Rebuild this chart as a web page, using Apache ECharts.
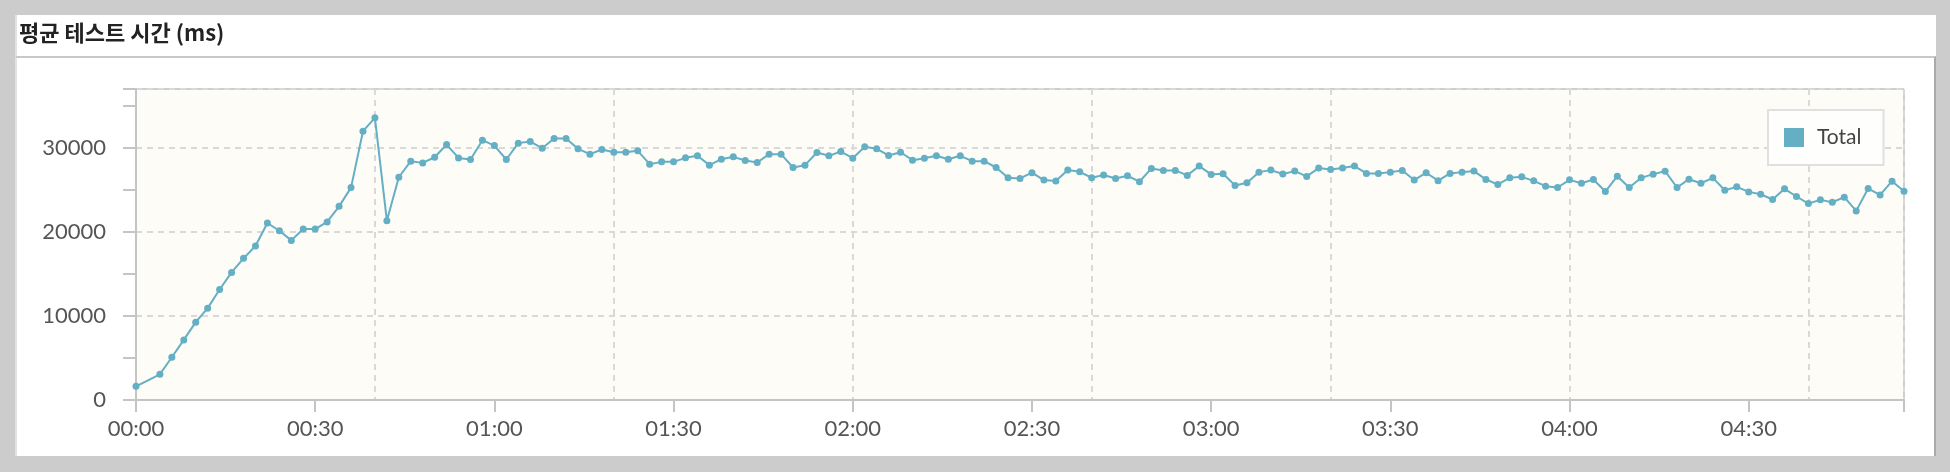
<!DOCTYPE html>
<html>
<head>
<meta charset="utf-8">
<script src="https://cdn.jsdelivr.net/npm/echarts@6/dist/echarts.min.js"></script>
<style>
  html, body { margin: 0; padding: 0; background: #cccccc; }
  .panel { position: absolute; left: 15px; top: 15px; width: 1921px; height: 441px; background: #fff; border-left: 2px solid #e2e2e2; box-sizing: border-box; }
  .box { position: absolute; left: 15px; top: 56px; width: 1921px; height: 400px; border-top: 2px solid #c8c8c8; border-right: 2px solid #aaaaaa; border-left: 2px solid #e2e2e2; box-sizing: border-box; }
  #chart { position: absolute; left: 0; top: 0; width: 1950px; height: 472px; }
</style>
</head>
<body>
<div class="panel"></div>
<div class="box"></div>
<div id="chart"></div>
<script>
// 경과 시간 (초) - 첫 샘플 후 2초 간격
const sampleSec = [0].concat(Array.from({ length: 147 }, (_, i) => 4 + 2 * i));

// 평균 테스트 시간 (ms)
const totalMs = [
  1630, 3060, 5090, 7150, 9260, 10930, 13150, 15180, 16850, 18320,
  21060, 20140, 18990, 20340, 20340, 21180, 23040, 25270, 31980, 33570,
  21330, 26500, 28410, 28210, 28880, 30390, 28800, 28610, 30910, 30270,
  28610, 30560, 30750, 29960, 31110, 31110, 29880, 29250, 29800, 29480,
  29480, 29640, 28060, 28330, 28330, 28810, 29050, 27940, 28650, 28930,
  28490, 28250, 29250, 29250, 27660, 27940, 29440, 29050, 29560, 28770,
  30120, 29880, 29090, 29480, 28530, 28770, 29050, 28650, 29050, 28410,
  28410, 27660, 26440, 26360, 27040, 26170, 26050, 27350, 27150, 26440,
  26760, 26360, 26680, 25970, 27550, 27310, 27310, 26720, 27830, 26840,
  26920, 25530, 25850, 27110, 27350, 26880, 27230, 26600, 27590, 27430,
  27590, 27830, 26960, 26960, 27110, 27310, 26170, 27040, 26090, 26960,
  27110, 27230, 26240, 25640, 26430, 26550, 26070, 25440, 25280, 26190,
  25790, 26230, 24800, 26630, 25280, 26430, 26870, 27220, 25280, 26270,
  25790, 26430, 24960, 25360, 24760, 24480, 23850, 25120, 24210, 23370,
  23810, 23530, 24130, 22500, 25160, 24400, 26030, 24840
];

const seriesName = 'Total';
const xMax = 296;       // 마지막 샘플
const yMax = 37000;

function pad(n) { return (n < 10 ? '0' : '') + n; }
function mmss(v) { return pad(Math.floor(v / 60)) + ':' + pad(v % 60); }

const chart = echarts.init(document.getElementById('chart'));

const labelFont = 'Lato, "Open Sans", sans-serif';
const axisGray = '#c4c4c4';
const gridDash = { color: '#d9d9d9', width: 2, type: [6, 5] };

let option = {
  animation: false,
  backgroundColor: 'transparent',
  title: {
    text: '평균 테스트 시간 (ms)',
    left: 14,
    top: 17,
    textStyle: {
      color: '#222',
      fontSize: 22,
      fontWeight: 'bold',
      fontFamily: '"Noto Sans CJK KR", sans-serif'
    }
  },
  legend: {
    data: [seriesName],
    left: 1768,
    top: 110,
    orient: 'vertical',
    icon: 'rect',
    itemWidth: 20,
    itemHeight: 19,
    padding: [17, 22, 17, 16],
    backgroundColor: '#fefefc',
    borderColor: '#e0e0e0',
    borderWidth: 2,
    borderRadius: 0,
    textStyle: {
      color: '#444',
      fontSize: 21,
      fontFamily: labelFont,
      padding: [0, 0, 0, 8]
    }
  },
  grid: {
    left: 136,
    top: 89,
    right: 46,
    bottom: 72,
    show: true,
    backgroundColor: '#fdfcf7',
    borderColor: '#9e9e9e',
    borderWidth: 1
  },
  xAxis: [
    {
      type: 'value',
      min: 0,
      max: xMax,
      interval: 30,
      axisLine: { show: true, lineStyle: { color: axisGray, width: 2 } },
      axisTick: { show: true, length: 12, lineStyle: { color: axisGray, width: 2 } },
      axisLabel: {
        color: '#555',
        fontSize: 22,
        fontFamily: labelFont,
        margin: 18,
        showMaxLabel: true,
        formatter: function (v) { return v % 30 === 0 ? mmss(v) : ''; }
      },
      splitLine: { show: false }
    },
    {
      // 세로 보조선 (40초 간격)
      type: 'value',
      position: 'top',
      min: 0,
      max: xMax,
      interval: 40,
      axisLine: { show: false },
      axisTick: { show: false },
      axisLabel: { show: false },
      splitLine: { show: true, lineStyle: gridDash }
    }
  ],
  yAxis: [
    {
      type: 'value',
      min: 0,
      max: yMax,
      interval: 10000,
      axisLine: { show: true, lineStyle: { color: axisGray, width: 2 } },
      axisTick: { show: true, length: 13, lineStyle: { color: axisGray, width: 2 } },
      axisLabel: {
        color: '#555',
        fontSize: 22,
        fontFamily: labelFont,
        margin: 30,
        formatter: function (v) { return v % 10000 === 0 ? String(v) : ''; }
      },
      splitLine: { show: true, lineStyle: gridDash }
    },
    {
      // 5000 단위 눈금
      type: 'value',
      position: 'left',
      min: 0,
      max: yMax,
      interval: 5000,
      axisLine: { show: false },
      axisTick: { show: true, length: 13, lineStyle: { color: axisGray, width: 2 } },
      axisLabel: { show: false },
      splitLine: { show: false }
    }
  ],
  series: [
    {
      name: seriesName,
      type: 'line',
      xAxisIndex: 0,
      yAxisIndex: 0,
      data: sampleSec.map((s, i) => [s, totalMs[i]]),
      symbol: 'circle',
      symbolSize: 7,
      color: '#64afc4',
      lineStyle: { width: 2, color: '#64afc4' },
      itemStyle: { color: '#64afc4' }
    }
  ]
};

chart.setOption(option);
</script>
</body>
</html>
